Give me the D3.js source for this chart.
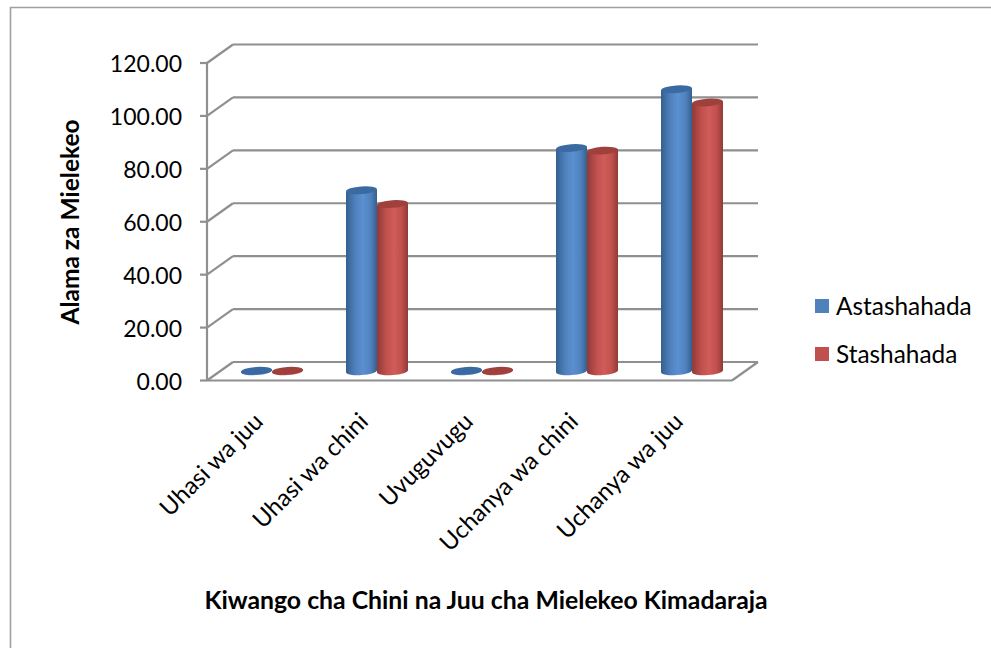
<!DOCTYPE html>
<html><head><meta charset="utf-8">
<script src="https://cdnjs.cloudflare.com/ajax/libs/d3/7.8.5/d3.min.js"></script>
<style>html,body{margin:0;padding:0;background:#fff}svg{display:block}text{font-family:Lato,"Open Sans",sans-serif;fill:#000}</style>
</head><body><svg id="c" width="991" height="648"></svg>
<script>
const categories = ["Uhasi wa juu","Uhasi wa chini","Uvuguvugu","Uchanya wa chini","Uchanya wa juu"];
const seriesNames = ["Astashahada","Stashahada"];
const astashahada = [0.2,68.4,0.2,84.4,106.6];
const stashahada = [0.2,63.2,0.2,83.4,101.6];
const yTicks = [0,20,40,60,80,100,120];
const colors = [{main:"#4f81bd",light:"#5b90d0",dark:"#34608f",top:"#3a6aa2"},{main:"#c0504d",light:"#d05c59",dark:"#8f3a38",top:"#a03f3c"}];

const svg = d3.select("#c");
const defs = svg.append("defs");
colors.forEach((c,i)=>{
  const g = defs.append("linearGradient").attr("id","g"+i);
  [[0,c.dark],[0.3,c.main],[0.55,c.light],[0.8,c.main],[1,c.dark]].forEach(s=>g.append("stop").attr("offset",s[0]).attr("stop-color",s[1]));
});
defs.append("filter").attr("id","soft").append("feGaussianBlur").attr("stdDeviation",0.5);

const y = d3.scaleLinear().domain([0,120]).range([380.5,63]);
const x0 = d3.scaleBand().domain(categories).range([207,732]);
const x1 = d3.scaleBand().domain(seriesNames).range([21,x0.bandwidth()-22]);
const dx = 26, dy = -18.5, gridC = "#8f8f8f";

svg.append("path").attr("d","M991,7.5H10.5V648").attr("fill","none").attr("stroke","#a0a0a0").attr("stroke-width",1.6);

const plot = svg.append("g").attr("filter","url(#soft)");
const line = (x1_,y1_,x2_,y2_) => plot.append("line").attr("x1",x1_).attr("y1",y1_).attr("x2",x2_).attr("y2",y2_).attr("stroke",gridC).attr("stroke-width",2.2);

yTicks.forEach(t=>{
  const yy = y(t);
  line(200,yy,207,yy);
  line(207,yy,207+dx,yy+dy);
  line(207+dx,yy+dy,732+dx,yy+dy);
});
line(207,y(0),207,y(120));
line(207,y(0),732,y(0));
line(732,y(0),732+dx,y(0)+dy);

const rx = x1.bandwidth()/2, ry = 3.8, tilt = 1.1;
[astashahada,stashahada].forEach((vals,s)=>{
  vals.forEach((v,i)=>{
    const cx = x0(categories[i]) + x1(seriesNames[s]) + rx + dx/2;
    const base = y(0)+dy/2;
    const top = base - (y(0)-y(v));
    const g = plot.append("g");
    g.append("path")
      .attr("d",`M${cx-rx},${top+tilt}V${base+tilt}A${rx},${ry} -4 0 0 ${cx+rx},${base-tilt}V${top-tilt}Z`)
      .attr("fill",`url(#g${s})`);
    g.append("ellipse").attr("rx",rx).attr("ry",ry)
      .attr("transform",`translate(${cx},${top}) rotate(-4)`)
      .attr("fill",colors[s].top);
  });
});

svg.append("g").selectAll("text").data(yTicks).join("text")
  .attr("x",182).attr("y",d=>y(d)+9).attr("text-anchor","end")
  .attr("font-size",23).text(d=>d3.format(".2f")(d));

svg.append("g").selectAll("text").data(categories).join("text")
  .attr("transform",d=>`translate(${x0(d)+x0.bandwidth()/2+5},${423}) rotate(-45)`)
  .attr("text-anchor","end").attr("font-size",24).text(d=>d);

svg.append("text").attr("transform","translate(79,222) rotate(-90)").attr("text-anchor","middle")
  .attr("font-size",24.5).attr("font-weight",700).text("Alama za Mielekeo");
svg.append("text").attr("x",486).attr("y",609).attr("text-anchor","middle")
  .attr("font-size",24.8).attr("font-weight",700).text("Kiwango cha Chini na Juu cha Mielekeo Kimadaraja");

const legY = d3.scalePoint().domain(seriesNames).range([306,354]);
seriesNames.forEach((n,i)=>{
  svg.append("rect").attr("x",815).attr("y",legY(n)-7).attr("width",14).attr("height",14).attr("fill",colors[i].main);
  svg.append("text").attr("x",836).attr("y",legY(n)+9).attr("font-size",24.4).text(n);
});
</script></body></html>
